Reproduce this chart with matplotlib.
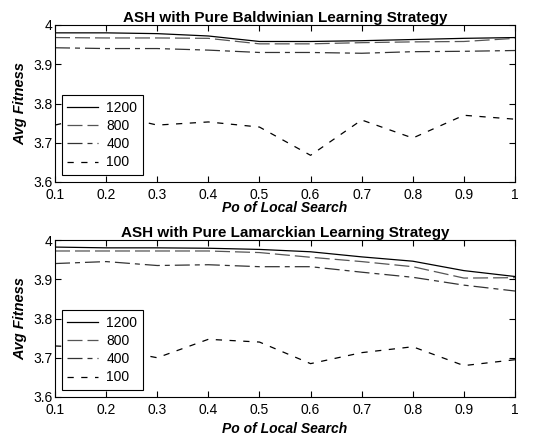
import matplotlib.pyplot as plt
from matplotlib.ticker import FuncFormatter

plt.rcParams['font.family'] = ['Liberation Sans', 'DejaVu Sans']

po = [0.1, 0.2, 0.3, 0.4, 0.5, 0.6, 0.7, 0.8, 0.9, 1.0]
labels = ["1200", "800", "400", "100"]

# Baldwinian strategy
bald_1200 = [3.980, 3.980, 3.978, 3.972, 3.958, 3.958, 3.960, 3.963, 3.966, 3.968]
bald_800 = [3.968, 3.967, 3.967, 3.966, 3.952, 3.952, 3.955, 3.957, 3.958, 3.966]
bald_400 = [3.942, 3.940, 3.940, 3.936, 3.930, 3.930, 3.928, 3.932, 3.933, 3.935]
bald_100 = [3.745, 3.775, 3.745, 3.753, 3.740, 3.668, 3.758, 3.712, 3.770, 3.760]

# Lamarckian strategy
lam_1200 = [3.982, 3.980, 3.980, 3.979, 3.976, 3.970, 3.957, 3.946, 3.922, 3.907]
lam_800 = [3.972, 3.972, 3.972, 3.972, 3.968, 3.956, 3.945, 3.932, 3.903, 3.904]
lam_400 = [3.940, 3.945, 3.935, 3.937, 3.932, 3.932, 3.918, 3.905, 3.885, 3.870]
lam_100 = [3.730, 3.725, 3.700, 3.747, 3.740, 3.685, 3.713, 3.728, 3.680, 3.695]

styles = [
    dict(color="black", linestyle="-"),
    dict(color="#555555", linestyle=(0, (12, 4))),
    dict(color="#333333", linestyle=(0, (12, 4, 4, 4))),
    dict(color="black", linestyle=(0, (5, 6))),
]


def fmt(v, pos):
    return "%g" % round(v, 2)


def draw(ax, series, title):
    for vals, lab, st in zip(series, labels, styles):
        ax.plot(po, vals, label=lab, linewidth=0.9, **st)
    ax.set_xlim(0.1, 1.0)
    ax.set_ylim(3.6, 4.0)
    ax.set_xticks(po)
    ax.set_yticks([3.6, 3.7, 3.8, 3.9, 4.0])
    ax.xaxis.set_major_formatter(FuncFormatter(fmt))
    ax.yaxis.set_major_formatter(FuncFormatter(fmt))
    ax.tick_params(direction="in", top=True, right=True, labelsize=10, length=4)
    ax.tick_params(axis="x", pad=4)
    ax.tick_params(axis="y", pad=2)
    ax.set_title(title, fontsize=11, fontweight="bold", pad=2)
    ax.set_xlabel("Po of Local Search", fontsize=10, fontweight="bold", style="italic", labelpad=-0.5)
    ax.set_ylabel("Avg Fitness", fontsize=10.5, fontweight="bold", style="italic", labelpad=4)
    leg = ax.legend(loc="lower left", bbox_to_anchor=(0.015, 0.045), fontsize=10,
                    fancybox=False, edgecolor="black", framealpha=1,
                    handlelength=2.2, handletextpad=0.6, borderaxespad=0,
                    labelspacing=0.3, borderpad=0.4)
    leg.get_frame().set_linewidth(0.8)


fig = plt.figure(figsize=(5.37, 4.37), dpi=100)
ax1 = fig.add_axes([55 / 537, 1 - 182 / 437, 460 / 537, 157 / 437])
ax2 = fig.add_axes([55 / 537, 1 - 397 / 437, 460 / 537, 157 / 437])

draw(ax1, [bald_1200, bald_800, bald_400, bald_100], "ASH with Pure Baldwinian Learning Strategy")
draw(ax2, [lam_1200, lam_800, lam_400, lam_100], "ASH with Pure Lamarckian Learning Strategy")
ax2.xaxis.labelpad = 4

fig.savefig("out.png", dpi=100)
